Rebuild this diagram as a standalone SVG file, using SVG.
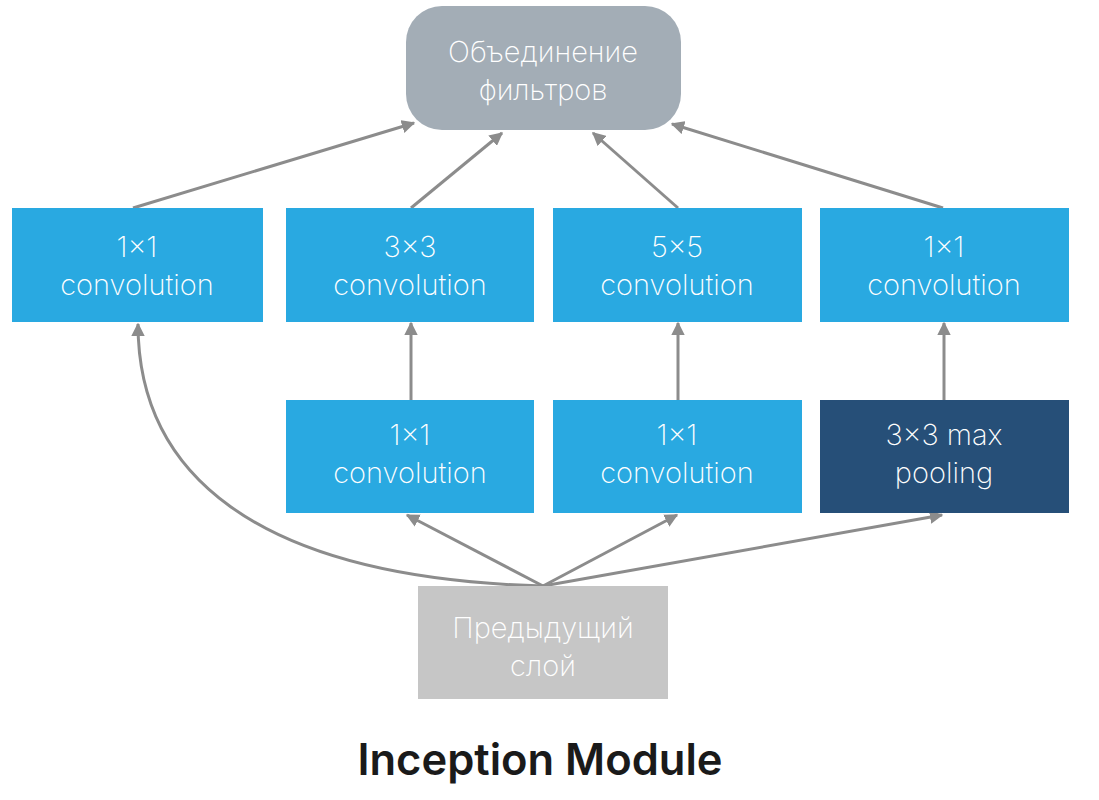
<svg xmlns="http://www.w3.org/2000/svg" width="1099" height="800" viewBox="0 0 1099 800">
<defs>
<marker id="ah" viewBox="0 0 10 10" refX="9" refY="5" markerWidth="4.5" markerHeight="4.5" orient="auto" markerUnits="strokeWidth">
<path d="M0,0 L10,5 L0,10 Z" fill="#8c8c8c"/>
</marker>
<style>
.lbl{font-family:Inter,"Liberation Sans",sans-serif;font-weight:200;font-size:29px;fill:#ffffff;text-anchor:middle}
.conv{fill:#29a9e1}
.pool{fill:#264f78}
.edge{fill:none;stroke:#8c8c8c;stroke-width:3;marker-end:url(#ah)}
.title{font-family:Inter,"Liberation Sans",sans-serif;font-weight:600;font-size:43.5px;fill:#1a1a1a;text-anchor:middle}
</style>
</defs>
<rect width="1099" height="800" fill="#ffffff"/>
<g id="connectors">
<path class="edge" d="M133,208 L414,123"/>
<path class="edge" d="M411,208 L502,133"/>
<path class="edge" d="M678,208 L593,133"/>
<path class="edge" d="M943,208 L672,124"/>
<path class="edge" d="M411,400 L411,323"/>
<path class="edge" d="M678,400 L678,323"/>
<path class="edge" d="M944,400 L944,323"/>
<path class="edge" d="M543,586 L407,515"/>
<path class="edge" d="M543,586 L677,515"/>
<path class="edge" d="M543,586 L942,515"/>
<path class="edge" d="M543,586 C250,578 138,470 138,324"/>
</g>
<g id="concat">
<rect x="406" y="6" width="275" height="124" rx="36" fill="#a3adb6"/>
<text class="lbl" x="543" y="62">Объединение</text>
<text class="lbl" x="543" y="100">фильтров</text>
</g>
<g id="conv1x1a">
<rect class="conv" x="12" y="208" width="251" height="114"/>
<text class="lbl" x="137" y="257">1×1</text>
<text class="lbl" x="137" y="295">convolution</text>
</g>
<g id="conv3x3">
<rect class="conv" x="286" y="208" width="248" height="114"/>
<text class="lbl" x="410" y="257">3×3</text>
<text class="lbl" x="410" y="295">convolution</text>
</g>
<g id="conv5x5">
<rect class="conv" x="553" y="208" width="249" height="114"/>
<text class="lbl" x="677" y="257">5×5</text>
<text class="lbl" x="677" y="295">convolution</text>
</g>
<g id="conv1x1d">
<rect class="conv" x="820" y="208" width="249" height="114"/>
<text class="lbl" x="944" y="257">1×1</text>
<text class="lbl" x="944" y="295">convolution</text>
</g>
<g id="conv1x1b">
<rect class="conv" x="286" y="400" width="248" height="113"/>
<text class="lbl" x="410" y="445">1×1</text>
<text class="lbl" x="410" y="483">convolution</text>
</g>
<g id="conv1x1c">
<rect class="conv" x="553" y="400" width="249" height="113"/>
<text class="lbl" x="677" y="445">1×1</text>
<text class="lbl" x="677" y="483">convolution</text>
</g>
<g id="maxpool">
<rect class="pool" x="820" y="400" width="249" height="113"/>
<text class="lbl" x="944" y="445">3×3 max</text>
<text class="lbl" x="944" y="483">pooling</text>
</g>
<g id="prev">
<rect x="418" y="586" width="250" height="113" fill="#c6c6c6"/>
<text class="lbl" x="543" y="638">Предыдущий</text>
<text class="lbl" x="543" y="676">слой</text>
</g>
<text class="title" x="540" y="775">Inception Module</text>
</svg>
